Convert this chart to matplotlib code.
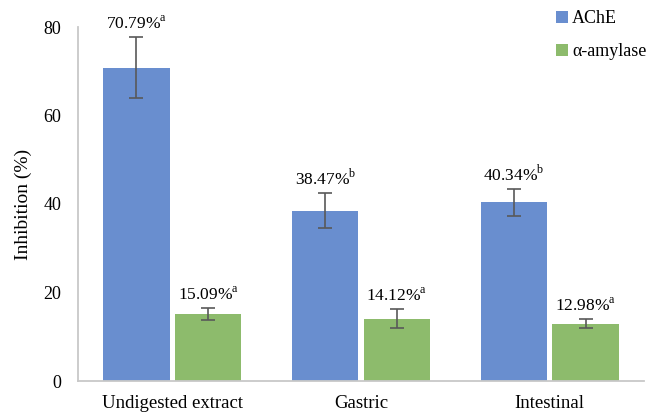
import numpy as np
import matplotlib
matplotlib.use("Agg")
import matplotlib.pyplot as plt

plt.rcParams['font.family'] = ['Liberation Serif', 'DejaVu Serif']
plt.rcParams['mathtext.fontset'] = 'custom'
plt.rcParams['mathtext.rm'] = 'Liberation Serif'

categories = ["Undigested extract", "Gastric", "Intestinal"]
ache = [70.79, 38.47, 40.34]
ache_err = [6.9, 4.0, 3.1]
ache_sig = ["a", "b", "b"]
amylase = [15.09, 14.12, 12.98]
amylase_err = [1.4, 2.1, 1.0]
amylase_sig = ["a", "a", "a"]

blue = "#698ecf"
green = "#8dbb6c"
errc = "#595959"

fig = plt.figure(figsize=(6.51, 4.12), dpi=100)
ax = fig.add_axes([78/651, 1-381/412, 566/651, 354/412])

x = np.arange(len(categories))
w = 0.35
off = 0.19
ax.bar(x - off, ache, w, color=blue, label="AChE",
       yerr=ache_err, error_kw=dict(ecolor=errc, elinewidth=1.2, capsize=5, capthick=1.2))
ax.bar(x + off, amylase, w, color=green, label="\u03b1-amylase",
       yerr=amylase_err, error_kw=dict(ecolor=errc, elinewidth=1.2, capsize=5, capthick=1.2))

for xi, v, e, s in zip(x - off, ache, ache_err, ache_sig):
    ax.text(xi, v + e + 1.0, f"{v:.2f}%$^{{\\mathrm{{{s}}}}}$", ha="center", va="bottom", fontsize=12.5)
for xi, v, e, s in zip(x + off, amylase, amylase_err, amylase_sig):
    ax.text(xi, v + e + 1.0, f"{v:.2f}%$^{{\\mathrm{{{s}}}}}$", ha="center", va="bottom", fontsize=12.5)

ax.set_xlim(-0.5, 2.5)
ax.set_ylim(0, 80)
ax.set_yticks([0, 20, 40, 60, 80])
ax.set_xticks(x)
ax.set_xticklabels(categories, fontsize=13.5)
ax.tick_params(axis="y", labelsize=13, length=0, pad=12)
ax.tick_params(axis="x", length=0, pad=10)
ax.set_ylabel("Inhibition (%)", fontsize=14, labelpad=8)
for sp in ["top", "right"]:
    ax.spines[sp].set_visible(False)
ax.spines["left"].set_color("#c8c8c8")
ax.spines["bottom"].set_color("#c8c8c8")
ax.spines["left"].set_linewidth(1.3)
ax.spines["bottom"].set_linewidth(1.3)

ax.legend(loc="upper left", bbox_to_anchor=(546/651, 1.0), bbox_transform=fig.transFigure,
          frameon=False, fontsize=13, handlelength=0.65, handleheight=0.65,
          handletextpad=0.25, labelspacing=0.9, borderaxespad=0.3, borderpad=0.25)

plt.savefig("out.png", dpi=100)
